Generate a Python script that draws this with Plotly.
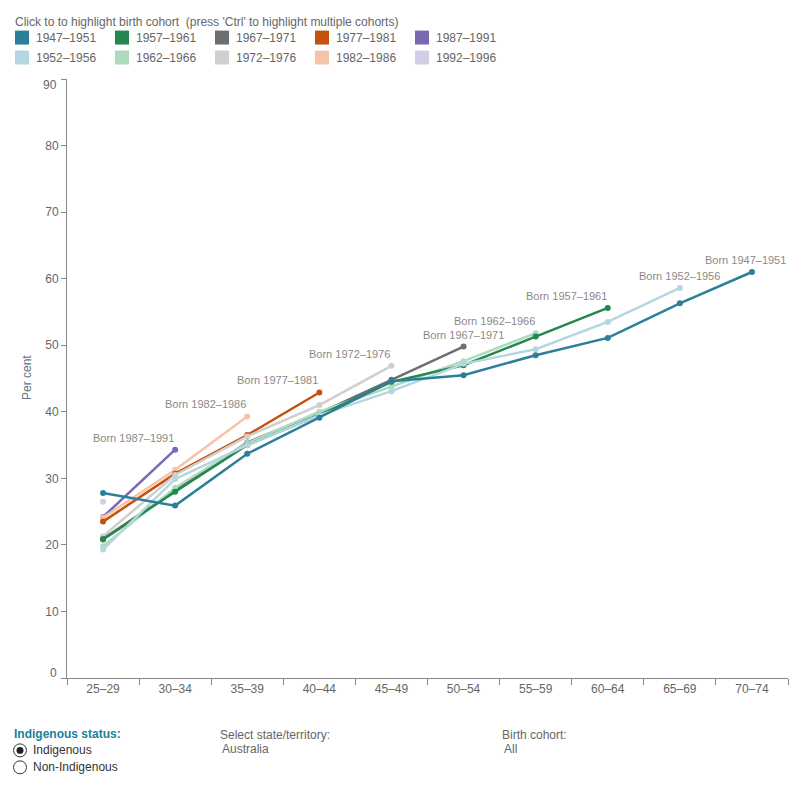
import plotly.graph_objects as go

age_groups = ["25–29", "30–34", "35–39", "40–44", "45–49", "50–54", "55–59", "60–64", "65–69", "70–74"]

cohorts = ["1947–1951", "1952–1956", "1957–1961", "1962–1966", "1967–1971",
           "1972–1976", "1977–1981", "1982–1986", "1987–1991", "1992–1996"]

v_1947 = [27.8, 25.9, 33.7, 39.1, 44.6, 45.5, 48.5, 51.1, 56.3, 61.0]
v_1952 = [19.3, 29.9, 35.0, 39.5, 43.1, 47.2, 49.4, 53.5, 58.6]
v_1957 = [20.8, 28.0, 35.0, 39.5, 44.5, 47.0, 51.3, 55.6]
v_1962 = [19.8, 28.6, 35.3, 40.0, 43.8, 47.6, 51.8]
v_1967 = [20.9, 28.2, 35.4, 39.8, 44.8, 49.8]
v_1972 = [21.3, 30.5, 36.3, 41.0, 46.9]
v_1977 = [23.5, 30.7, 36.5, 42.9]
v_1982 = [24.1, 31.3, 39.3]
v_1987 = [24.2, 34.3]
v_1992 = [26.5]

values = [v_1947, v_1952, v_1957, v_1962, v_1967, v_1972, v_1977, v_1982, v_1987, v_1992]

y_ticks = [0, 10, 20, 30, 40, 50, 60, 70, 80, 90]

colors = ["#2c7f9a", "#b5d6e0", "#23884d", "#acdbbe", "#6c6f71",
          "#cfcfcf", "#c6510c", "#f5c4a8", "#7a68b2", "#d3cee5"]

# label placement style per cohort (anchor, xshift)
label_style = {
    "1947–1951": ("center", -6),
    "1952–1956": ("center", 0),
    "1957–1961": ("right", 1),
    "1962–1966": ("right", 1),
    "1967–1971": ("center", 0),
    "1972–1976": ("right", 1),
    "1977–1981": ("right", 1),
    "1982–1986": ("right", 1),
    "1987–1991": ("right", 1),
}

FONT = "Liberation Sans, Arial, sans-serif"
TXT = "#666666"

# plot area pixels
L, R, T, B = 67, 788, 78.5, 678.5


def px(x):
    return (x - L) / (R - L)


def py(y):
    return (B - y) / (B - T)


fig = go.Figure()

for name, vals, col in reversed(list(zip(cohorts, values, colors))):
    fig.add_trace(go.Scatter(
        x=age_groups[:len(vals)], y=vals, name=name,
        mode="lines+markers",
        line=dict(color=col, width=2.5),
        marker=dict(color=col, size=6),
        showlegend=False, cliponaxis=False,
    ))

annotations = []
shapes = []

# end labels
for name, vals in zip(cohorts, values):
    if name not in label_style:
        continue
    anchor, xs = label_style[name]
    annotations.append(dict(
        x=age_groups[len(vals) - 1], y=vals[-1], xref="x", yref="y",
        text="Born " + name, showarrow=False, xanchor=anchor, yanchor="middle",
        xshift=xs, yshift=12,
        font=dict(family=FONT, size=11, color="#8c8888"),
    ))

# end tick labels of the y axis are nudged inwards in the original
for v, yshift in [(y_ticks[0], 5), (y_ticks[-1], -5.5)]:
    annotations.append(dict(
        x=0, y=v, xref="paper", yref="y", xanchor="right", yanchor="middle",
        xshift=-8, yshift=yshift, text=str(v), showarrow=False,
        font=dict(family=FONT, size=12, color=TXT),
    ))

# legend (custom, two rows)
annotations.append(dict(
    x=px(13), y=py(21), xref="paper", yref="paper", xanchor="left", yanchor="middle",
    text="Click to to highlight birth cohort  (press 'Ctrl' to highlight multiple cohorts)",
    showarrow=False, font=dict(family=FONT, size=12, color=TXT),
))
legend_order = [0, 2, 4, 6, 8, 1, 3, 5, 7, 9]
for k, idx in enumerate(legend_order):
    row, colm = divmod(k, 5)
    x0 = 15 + 100 * colm
    yc = 37 + 20 * row
    shapes.append(dict(
        type="rect", xref="paper", yref="paper",
        x0=px(x0), x1=px(x0 + 14), y0=py(yc - 7), y1=py(yc + 7),
        fillcolor=colors[idx], line=dict(width=0),
    ))
    annotations.append(dict(
        x=px(x0 + 19), y=py(yc), xref="paper", yref="paper", xanchor="left", yanchor="middle",
        text=cohorts[idx], showarrow=False, font=dict(family=FONT, size=12, color=TXT),
    ))

# y axis title
annotations.append(dict(
    x=px(27), y=py(378), xref="paper", yref="paper", xanchor="center", yanchor="middle",
    text="Per cent", textangle=-90, showarrow=False,
    font=dict(family=FONT, size=12, color="#667080"),
))

# bottom controls
annotations.append(dict(
    x=px(12), y=py(735), xref="paper", yref="paper", xanchor="left", yanchor="middle",
    text="<b>Indigenous status:</b>", showarrow=False,
    font=dict(family=FONT, size=12, color="#1c7f9c"),
))
for label, yc, filled in [("Indigenous", 751, True), ("Non-Indigenous", 768, False)]:
    shapes.append(dict(
        type="circle", xref="paper", yref="paper",
        x0=px(13.5), x1=px(26.5), y0=py(yc - 6.5), y1=py(yc + 6.5),
        fillcolor="white", line=dict(color="#333333", width=1),
    ))
    if filled:
        shapes.append(dict(
            type="circle", xref="paper", yref="paper",
            x0=px(16.5), x1=px(23.5), y0=py(yc - 3.5), y1=py(yc + 3.5),
            fillcolor="#222222", line=dict(width=0),
        ))
    annotations.append(dict(
        x=px(31), y=py(yc), xref="paper", yref="paper", xanchor="left", yanchor="middle",
        text=label, showarrow=False, font=dict(family=FONT, size=12, color="#333333"),
    ))

for title, val, x0 in [("Select state/territory:", "Australia", 218), ("Birth cohort:", "All", 500)]:
    annotations.append(dict(
        x=px(x0), y=py(736), xref="paper", yref="paper", xanchor="left", yanchor="middle",
        text=title, showarrow=False, font=dict(family=FONT, size=12, color=TXT),
    ))
    annotations.append(dict(
        x=px(x0 + 2), y=py(750), xref="paper", yref="paper", xanchor="left", yanchor="middle",
        text=val, showarrow=False, font=dict(family=FONT, size=12, color=TXT),
    ))

fig.update_layout(
    width=800, height=800,
    margin=dict(l=L, r=800 - R, t=T, b=800 - B),
    paper_bgcolor="white", plot_bgcolor="white",
    font=dict(family=FONT, size=12, color=TXT),
    showlegend=False,
    annotations=annotations, shapes=shapes,
    hovermode="closest",
)
fig.update_xaxes(
    type="category", categoryorder="array", categoryarray=age_groups,
    range=[-0.5, len(age_groups) - 0.5],
    showline=True, linecolor="#888888", linewidth=1,
    ticks="outside", tickson="boundaries", ticklen=6, tickcolor="#888888",
    showgrid=False, zeroline=False,
    tickfont=dict(family=FONT, size=12, color=TXT),
)
fig.update_yaxes(
    range=[0, 90], tickvals=y_ticks,
    ticktext=["" if v in (y_ticks[0], y_ticks[-1]) else str(v) for v in y_ticks],
    showline=True, linecolor="#888888", linewidth=1,
    ticks="outside", ticklen=5, tickcolor="#888888",
    showgrid=False, zeroline=False,
    tickfont=dict(family=FONT, size=12, color=TXT),
)

fig.write_html("out.html")
